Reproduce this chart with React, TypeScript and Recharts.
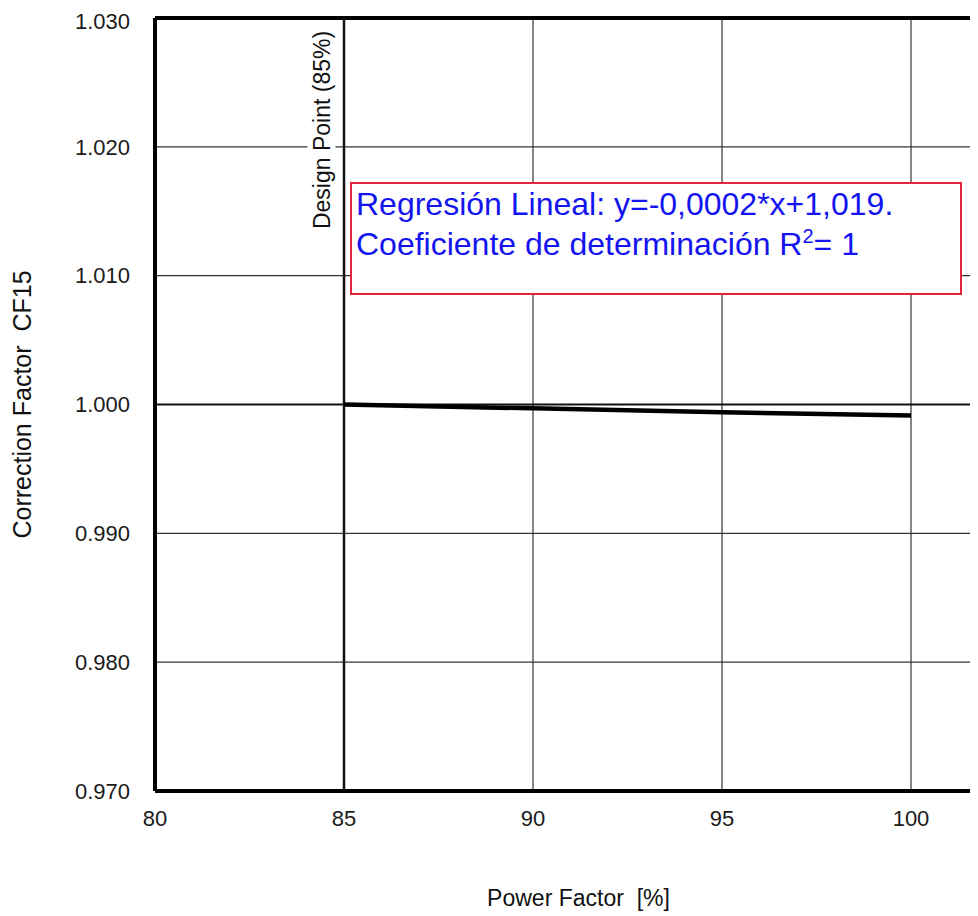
import { LineChart, Line, XAxis, YAxis, CartesianGrid, ReferenceLine } from 'recharts';

const powerFactor = [85, 90, 95, 100];
const correctionFactor = [1.0, 0.9997, 0.9994, 0.99915];
const xTicks = [80, 85, 90, 95, 100];
const yTicks = [0.97, 0.98, 0.99, 1.0, 1.01, 1.02, 1.03];

const data = powerFactor.map((pf, i) => ({ pf, cf: correctionFactor[i] }));

const font = '"Liberation Sans", Arial, sans-serif';

function DesignPointLabel(props: any) {
  const { viewBox } = props;
  const cx = viewBox.x - 22.5;
  const cy = viewBox.y + 112;
  return (
    <g>
      <rect x={cx - 14} y={cy - 104} width={28} height={208} fill="#fff" />
      <text
        x={cx}
        y={cy}
        transform={`rotate(-90, ${cx}, ${cy})`}
        textAnchor="middle"
        dominantBaseline="central"
        fontSize={23}
        fill="#111"
        fontFamily={font}
      >
        Design Point (85%)
      </text>
    </g>
  );
}

function XTitle(props: any) {
  const { viewBox } = props;
  return (
    <text
      x={viewBox.x + viewBox.width / 2 - 49}
      y={viewBox.y + viewBox.height + 47}
      textAnchor="middle"
      dominantBaseline="central"
      fontSize={23}
      fill="#111"
      fontFamily={font}
      style={{ whiteSpace: 'pre' }}
    >
      {'Power Factor  [%]'}
    </text>
  );
}

function YTitle(props: any) {
  const { viewBox } = props;
  const cx = viewBox.x + 14;
  const cy = viewBox.y + viewBox.height / 2;
  return (
    <text
      x={cx}
      y={cy}
      transform={`rotate(-90, ${cx}, ${cy})`}
      textAnchor="middle"
      dominantBaseline="central"
      fontSize={25}
      fill="#111"
      fontFamily={font}
      style={{ whiteSpace: 'pre' }}
    >
      {'Correction Factor  CF15'}
    </text>
  );
}

export default function App() {
  return (
    <div style={{ position: 'relative', width: 970, height: 908, overflow: 'hidden', background: '#fff' }}>
      <LineChart
        width={1100}
        height={908}
        data={data}
        margin={{ top: 10, right: 8, bottom: 65, left: 0 }}
        style={{ fontFamily: font }}
      >
        <CartesianGrid stroke="#333" strokeWidth={1.2} />
        <XAxis
          type="number"
          dataKey="pf"
          domain={[80, 105]}
          ticks={xTicks}
          allowDataOverflow
          height={60}
          tickLine={false}
          tickSize={0}
          tickMargin={19}
          axisLine={{ stroke: '#000', strokeWidth: 4 }}
          tick={{ fontSize: 22, fill: '#1a1a1a', fontFamily: font }}
          label={<XTitle />}
        />
        <YAxis
          type="number"
          domain={[0.97, 1.03]}
          ticks={yTicks}
          allowDataOverflow
          width={147}
          tickLine={false}
          tickSize={0}
          tickMargin={25}
          tickFormatter={(v: number) => v.toFixed(3)}
          axisLine={{ stroke: '#000', strokeWidth: 4 }}
          tick={{ fontSize: 22, fill: '#1a1a1a', fontFamily: font }}
          label={<YTitle />}
        />
        <ReferenceLine y={1.03} stroke="#000" strokeWidth={4} />
        <ReferenceLine y={1.0} stroke="#111" strokeWidth={2} />
        <ReferenceLine x={85} stroke="#111" strokeWidth={2.5} label={<DesignPointLabel />} />
        <Line
          type="linear"
          dataKey="cf"
          stroke="#000"
          strokeWidth={4.5}
          dot={false}
          isAnimationActive={false}
        />
      </LineChart>
      <div
        style={{
          position: 'absolute',
          left: 342,
          top: 174,
          width: 604,
          height: 109,
          border: '2px solid #e2243e',
          background: '#fff',
          color: '#1414f0',
          fontFamily: font,
          fontSize: 32,
          lineHeight: '40px',
          paddingLeft: 4,
          boxSizing: 'content-box',
          whiteSpace: 'nowrap',
        }}
      >
        <div>Regresión Lineal: y=-0,0002*x+1,019.</div>
        <div>
          Coeficiente de determinación R
          <span style={{ fontSize: 20, position: 'relative', top: -12 }}>2</span>= 1
        </div>
      </div>
    </div>
  );
}
